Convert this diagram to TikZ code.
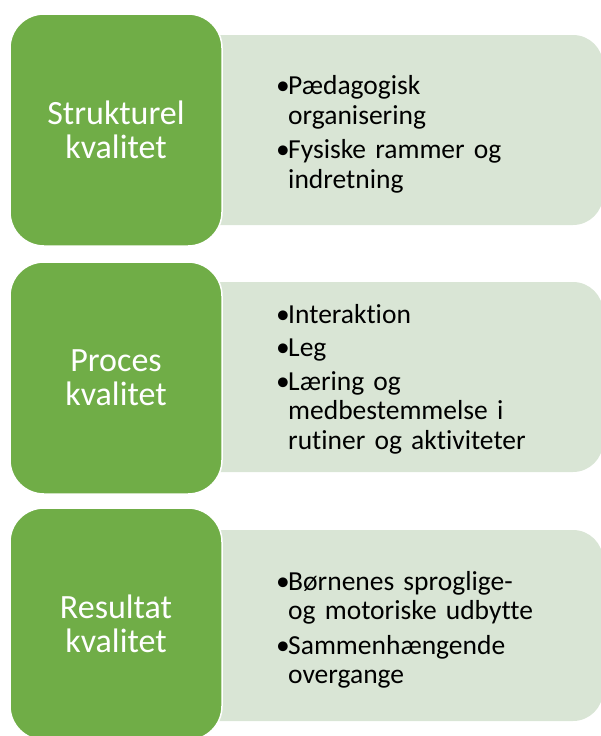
\documentclass[tikz,border=0pt]{standalone}
\usepackage{fontspec}
\setmainfont{Carlito}[Ligatures={NoCommon}]
\usetikzlibrary{positioning}

\definecolor{kvgreen}{HTML}{70AD47}
\definecolor{kvlight}{HTML}{D9E5D5}

% one bullet item, lines given by \\
\newcommand{\punkt}[1]{\noindent\makebox[12pt][l]{\textbullet}%
    \begin{tabular}[t]{@{}l@{}}#1\end{tabular}\par}

\begin{document}
\begin{tikzpicture}[x=1pt,y=-1pt,
    levelbox/.style={fill=kvgreen,draw=white,line width=1.5pt,rounded corners=34pt,
        minimum width=212pt,minimum height=232pt,inner sep=0pt,text=white,align=center,
        font=\fontsize{34}{34}\selectfont},
    listbox/.style={fill=kvlight,rounded corners=30pt,minimum width=422pt,inner sep=0pt},
    listtext/.style={anchor=west,text width=320pt,inner sep=0pt,
        font=\fontsize{27.5}{29.5}\selectfont\setlength{\parskip}{4pt}}]
		 \useasboundingbox (0,0) rectangle (601,736);

		 % Draw the light boxes
		 \node[listbox,minimum height=190pt] (strukbg) at (392,130) {};
		 \node[listbox,minimum height=190pt] (procbg) at (392,377) {};
		 \node[listbox,minimum height=191pt] (resulbg) at (392,625.5) {};

		 % Draw the green boxes
		 \node[levelbox] (struk) at (116,130) {Strukturel\\kvalitet};
		 \node[levelbox] (proc) at (116,378) {Proces\\kvalitet};
		 \node[levelbox] (resul) at (116,624) {Resultat\\kvalitet};

		 % Fill in the lists
		 \node[listtext] (struktxt) at (276,135.5) {\punkt{Pædagogisk\\organisering}\punkt{Fysiske rammer og\\indretning}};
		 \node[listtext] (proctxt) at (276,380.5) {\punkt{Interaktion}\punkt{Leg}\punkt{Læring og\\medbestemmelse i\\rutiner og aktiviteter}};
		 \node[listtext] (resultxt) at (276,631) {\punkt{Børnenes sproglige-\\og motoriske udbytte}\punkt{Sammenhængende\\overgange}};
	\end{tikzpicture}
\end{document}
